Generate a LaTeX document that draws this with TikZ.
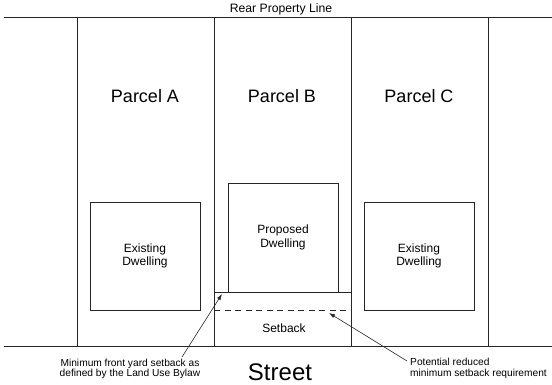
\documentclass[tikz,border=0pt]{standalone}
\usepackage{fontspec}
\setmainfont{Liberation Sans}
\usetikzlibrary{arrows.meta}
\begin{document}
\begin{tikzpicture}[x=1pt,y=-1pt,
  lot/.style={draw=black!85,line width=0.7pt},
  dwelling/.style={draw=black!85,line width=0.7pt,align=center,inner sep=0pt,
    font=\fontsize{12}{13.5}\selectfont},
  parcel/.style={anchor=base,font=\fontsize{18}{20}\selectfont},
  note/.style={font=\fontsize{10.2}{10.8}\selectfont,inner sep=0pt},
  pointer/.style={draw=black!85,line width=0.6pt,-{Latex[length=6pt,width=4pt]}}]
\useasboundingbox (0,0) rectangle (552,385);
% property lines
\coordinate (rl) at (4,17);   \coordinate (rr) at (552,17);
\coordinate (sl) at (4,346);  \coordinate (sr) at (552,346);
\draw[lot] (rl) -- (rr);
\draw[lot] (sl) -- (sr);
\foreach \x/\n in {77/a,214/b,351/c,488/d}{
  \coordinate (t\n) at (\x,17);
  \coordinate (f\n) at (\x,346);
  \draw[lot] (t\n) -- (f\n);
}
\node[anchor=base,font=\fontsize{12.2}{14}\selectfont] (rear) at (281,13) {Rear Property Line};
% parcel names
\node[parcel] (pA) at (145,102.7) {Parcel A};
\node[parcel] (pB) at (282,102.7) {Parcel B};
\node[parcel] (pC) at (419,102.7) {Parcel C};
% dwellings
\node[dwelling,minimum width=110pt,minimum height=108pt] (dA) at (145,256) {Existing\\Dwelling};
\node[dwelling,minimum width=110pt,minimum height=109pt] (dB) at (283,237.5) {Proposed\\Dwelling};
\node[dwelling,minimum width=110pt,minimum height=108pt] (dC) at (419,256) {Existing\\Dwelling};
% setback strip in front of the proposed dwelling
\coordinate (s1) at (214,292); \coordinate (s2) at (351,292);
\coordinate (d1) at (214,310); \coordinate (d2) at (351,310);
\draw[lot] (s1) -- (s2);
\draw[lot,dash pattern=on 6pt off 4.5pt] (d1) -- (d2);
\node[font=\fontsize{12}{14}\selectfont] (sb) at (284,328) {Setback};
% street
\node[anchor=base,font=\fontsize{24}{26}\selectfont,inner sep=0pt] (street) at (280,380.5) {Street};
% annotations
\node[note,align=center,anchor=north] (n1) at (130,358.5) {Minimum front yard setback as\\defined by the Land Use Bylaw};
\node[note,align=left,anchor=north west] (n2) at (410,358) {Potential reduced\\minimum setback requirement};
\coordinate (t1) at (182,357);
\coordinate (t2) at (407,361);
\coordinate (a1) at (222,294);
\coordinate (a2) at (329,313);
\draw[pointer] (t1) -- (a1);
\draw[pointer] (t2) -- (a2);
\end{tikzpicture}
\end{document}
